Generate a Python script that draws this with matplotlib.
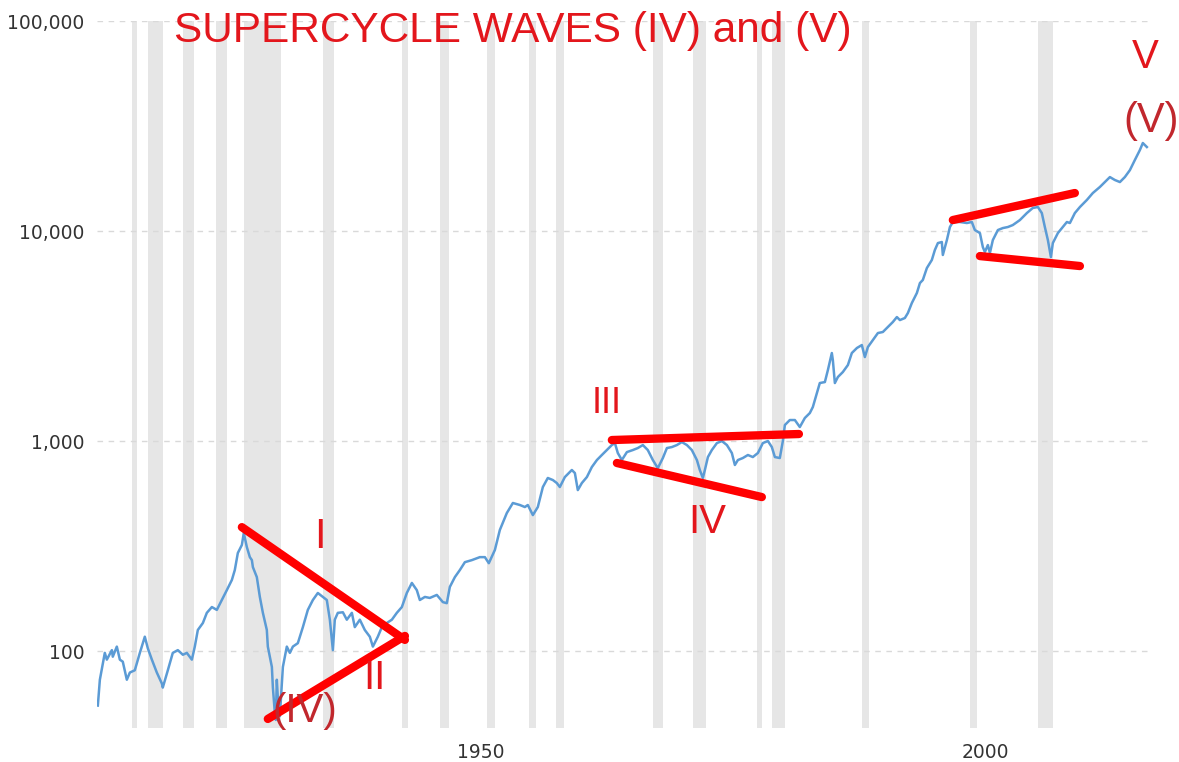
import matplotlib
matplotlib.use("Agg")
from matplotlib import pyplot as plt
import matplotlib.ticker as ticker
import numpy as np


# Dow Jones (x in the chart's own year axis)
dow_years = [
    1912.08, 1912.28, 1912.77, 1912.97, 1913.47, 1913.56, 1913.96, 1914.26, 1914.55, 1914.95,
    1915.25, 1915.74, 1916.24, 1916.73, 1917.03, 1917.43, 1917.92, 1918.42, 1918.51, 1919.01,
    1919.50, 1920.00, 1920.50, 1920.89, 1921.39, 1921.68, 1921.98, 1922.48, 1922.87, 1923.37,
    1923.86, 1924.36, 1924.85, 1925.35, 1925.64, 1925.94, 1926.34, 1926.53, 1926.83, 1927.13,
    1927.33, 1927.43, 1927.82, 1928.12, 1928.42, 1928.81, 1928.91, 1929.31, 1929.41, 1929.60,
    1929.70, 1929.80, 1929.90, 1930.10, 1930.40, 1930.79, 1931.09, 1931.39, 1931.88, 1932.38,
    1932.87, 1933.37, 1933.86, 1934.36, 1934.75, 1935.05, 1935.35, 1935.54, 1935.84, 1936.34,
    1936.73, 1937.23, 1937.52, 1938.02, 1938.51, 1939.01, 1939.31, 1939.80, 1940.20, 1940.69,
    1941.19, 1941.68, 1942.18, 1942.67, 1943.17, 1943.66, 1943.96, 1944.46, 1944.95, 1945.64,
    1946.24, 1946.63, 1946.93, 1947.43, 1947.92, 1948.42, 1949.11, 1949.90, 1950.40, 1950.79,
    1951.39, 1951.88, 1952.57, 1953.17, 1953.86, 1954.36, 1954.65, 1955.15, 1955.64, 1956.14,
    1956.63, 1957.13, 1957.52, 1957.82, 1958.32, 1959.01, 1959.31, 1959.60, 1960.00, 1960.50,
    1960.99, 1961.49, 1961.98, 1962.48, 1962.97, 1963.27, 1963.56, 1963.96, 1964.46, 1965.05,
    1965.54, 1966.04, 1966.53, 1967.03, 1967.52, 1968.02, 1968.42, 1968.91, 1969.41, 1969.90,
    1970.40, 1970.89, 1971.39, 1971.68, 1971.98, 1972.18, 1972.48, 1972.87, 1973.37, 1973.86,
    1974.36, 1974.85, 1975.15, 1975.45, 1975.94, 1976.44, 1976.93, 1977.43, 1977.92, 1978.42,
    1978.81, 1979.11, 1979.60, 1979.90, 1980.10, 1980.59, 1981.09, 1981.58, 1982.08, 1982.57,
    1982.87, 1983.27, 1983.56, 1984.06, 1984.36, 1984.75, 1984.85, 1985.05, 1985.35, 1985.84,
    1986.34, 1986.73, 1987.23, 1987.72, 1988.02, 1988.32, 1988.81, 1989.31, 1989.80, 1990.30,
    1990.79, 1991.19, 1991.49, 1991.98, 1992.28, 1992.67, 1993.17, 1993.47, 1993.76, 1994.16,
    1994.65, 1994.95, 1995.25, 1995.64, 1995.74, 1996.14, 1996.44, 1996.73, 1997.43, 1998.12,
    1998.61, 1998.91, 1999.41, 1999.70, 1999.90, 2000.20, 2000.40, 2000.69, 2001.19, 2001.68,
    2002.18, 2002.67, 2003.37, 2004.06, 2004.65, 2005.15, 2005.54, 2005.84, 2006.14, 2006.44,
    2006.63, 2007.13, 2007.62, 2008.02, 2008.32, 2008.81, 2009.31, 2010.00, 2010.59, 2011.29,
    2011.78, 2012.28, 2012.77, 2013.27, 2013.76, 2014.26, 2014.75, 2015.25, 2015.54, 2015.94,
]
dow_values = [
    55, 73, 98, 91, 101, 94, 105, 91, 89, 73,
    79, 81, 98, 117, 103, 91, 79, 70, 67, 81,
    98, 101, 96, 98, 91, 105, 126, 136, 152, 162,
    157, 175, 195, 218, 243, 293, 320, 365, 313, 280,
    271, 251, 225, 181, 152, 126, 105, 84, 67, 51,
    47, 73, 60, 49, 84, 105, 98, 105, 109, 130,
    157, 175, 189, 181, 175, 141, 101, 141, 152, 153,
    141, 152, 130, 141, 126, 117, 105, 117, 130, 136,
    141, 152, 162, 189, 211, 195, 175, 181, 179, 185,
    171, 169, 202, 225, 243, 265, 271, 280, 280, 262,
    303, 377, 454, 507, 496, 485, 496, 444, 485, 604,
    667, 652, 631, 604, 674, 728, 704, 584, 631, 674,
    752, 812, 858, 906, 957, 978, 877, 812, 886, 906,
    926, 957, 906, 812, 743, 830, 926, 936, 957, 989,
    957, 906, 812, 728, 667, 728, 839, 906, 978, 1000,
    957, 877, 769, 812, 830, 858, 839, 877, 978, 1000,
    936, 839, 830, 1000, 1192, 1259, 1259, 1166, 1288, 1359,
    1452, 1693, 1889, 1909, 2178, 2625, 2431, 1889, 2018, 2131,
    2301, 2625, 2773, 2865, 2512, 2803, 3027, 3268, 3305, 3491,
    3688, 3894, 3767, 3853, 4070, 4540, 5070, 5652, 5848, 6666,
    7278, 8120, 8764, 8865, 7691, 9057, 10450, 11040, 11040, 10920,
    11040, 10110, 9780, 8390, 7943, 8576, 7855, 9057, 10110, 10330,
    10450, 10680, 11280, 12180, 12880, 13010, 12180, 10450, 9057, 7518,
    8764, 9780, 10450, 11040, 10920, 12180, 13010, 14060, 15170, 16210,
    17110, 18070, 17500, 17110, 18070, 19500, 21780, 24310, 26250, 25120,
]

# shaded recession periods
recession_start = [1915.5, 1917.0, 1920.5, 1923.75, 1926.6, 1934.35, 1942.2, 1945.95, 1950.6,
                   1954.75, 1957.45, 1967.05, 1971.0, 1977.35, 1978.8, 1987.7, 1998.4, 2005.15]
recession_end = [1916.0, 1918.5, 1921.6, 1924.85, 1930.2, 1935.45, 1942.8, 1946.85, 1951.4,
                 1955.45, 1958.2, 1968.0, 1972.3, 1977.8, 1980.1, 1988.4, 1999.1, 2006.65]

# hand drawn trend lines: (year0, value0, year1, value1)
trend_lines = [
    (1926.34, 389, 1942.48, 113),
    (1928.91, 47.5, 1942.48, 118),
    (1962.97, 1011, 1981.49, 1080),
    (1963.47, 786, 1977.82, 541),
    (1996.73, 11280, 2008.81, 15170),
    (1999.41, 7600, 2009.31, 6813),
]

# wave labels: text, year, value (baseline)
wave_text = ['I', 'II', '(IV)', 'III', 'IV', 'V', '(V)']
wave_year = [1934.06, 1939.5, 1932.57, 1962.48, 1972.38, 2015.74, 2016.34]
wave_value = [309, 66, 46, 1359, 365, 59730, 29610]

y_ticks = [100, 1000, 10000, 100000]
x_ticks = [1950, 2000]

fig = plt.figure(figsize=(11.79, 7.62), dpi=100)
ax = fig.add_axes([0.0823, 0.0446, 0.8931, 0.9278])

for s, e in zip(recession_start, recession_end):
    ax.axvspan(s, e, color='#e6e6e6', lw=0, zorder=0)

ax.plot(dow_years, dow_values, color='#5b9bd5', lw=1.8, zorder=3)

for x0, y0, x1, y1 in trend_lines:
    ax.plot([x0, x1], [y0, y1], color='#ff0000', lw=6, solid_capstyle='round', zorder=4)

label_colors = ['#e3161c', '#e3161c', '#c1272d', '#e3161c', '#e3161c', '#e3161c', '#c1272d']
label_sizes = [30, 29, 29, 26, 29, 29, 30]
for t, x, y, c, s in zip(wave_text, wave_year, wave_value, label_colors, label_sizes):
    ax.text(x, y, t, color=c, fontsize=s, family='Liberation Sans',
            ha='center', va='baseline', zorder=5)

ax.set_yscale('log')
ax.set_ylim(43, 100000)
ax.set_xlim(1912.0, 2016.25)
ax.set_yticks(y_ticks)
ax.yaxis.set_major_formatter(ticker.FuncFormatter(lambda v, p: f'{int(v):,}'))
ax.yaxis.set_minor_locator(ticker.NullLocator())
ax.set_xticks(x_ticks)
ax.set_xticklabels([str(x) for x in x_ticks])
ax.tick_params(axis='y', length=0, pad=9, labelsize=13.5, labelcolor='#333333')
ax.tick_params(axis='x', length=0, pad=11, labelsize=13.5, labelcolor='#333333')
ax.grid(axis='y', color='#d9d9d9', lw=1, ls=(0, (4, 4)))
ax.set_axisbelow(True)
for sp in ax.spines.values():
    sp.set_visible(False)

fig.text(0.148, 0.945, 'SUPERCYCLE WAVES (IV) and (V)', color='#e3161c', fontsize=30.5,
         family='Liberation Sans', ha='left', va='baseline')

fig.savefig('out.png', dpi=100)
